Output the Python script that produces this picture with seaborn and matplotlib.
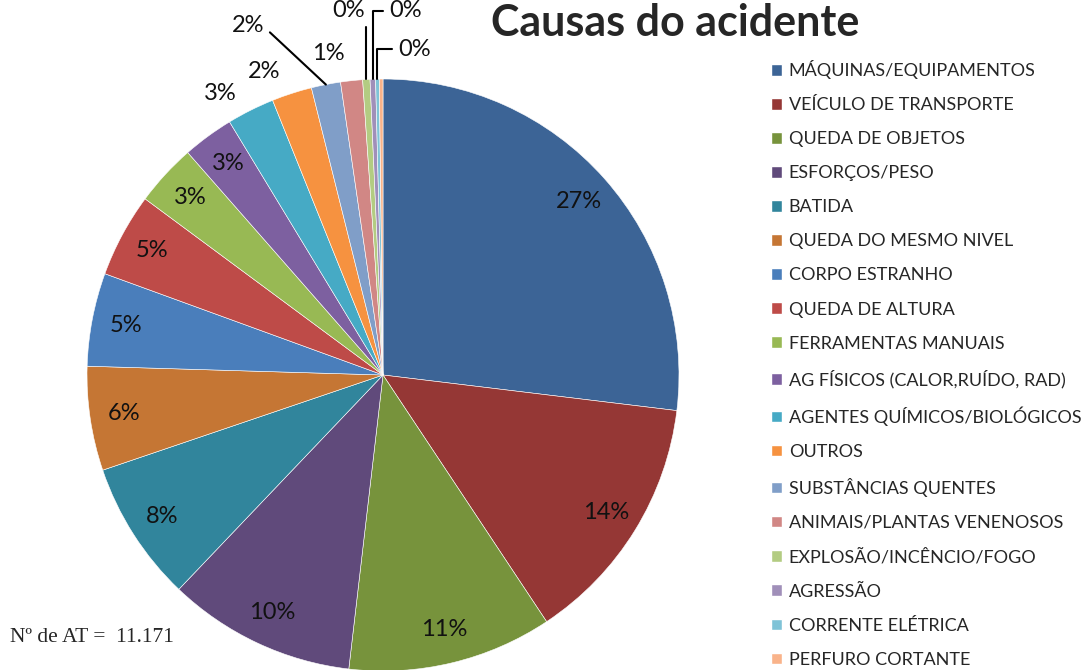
import matplotlib.pyplot as plt
import matplotlib.patches as mpatches
import numpy as np
import seaborn as sns

# causas de acidente (percentual estimado do grafico), N = 11.171
causas = ["MÁQUINAS/EQUIPAMENTOS", "VEÍCULO DE TRANSPORTE", "QUEDA DE OBJETOS",
          "ESFORÇOS/PESO", "BATIDA", "QUEDA DO MESMO NIVEL", "CORPO ESTRANHO",
          "QUEDA DE ALTURA", "FERRAMENTAS MANUAIS", "AG FÍSICOS (CALOR,RUÍDO, RAD)",
          "AGENTES QUÍMICOS/BIOLÓGICOS", "OUTROS", "SUBSTÂNCIAS QUENTES",
          "ANIMAIS/PLANTAS VENENOSOS", "EXPLOSÃO/INCÊNCIO/FOGO", "AGRESSÃO",
          "CORRENTE ELÉTRICA", "PERFURO CORTANTE"]
percentual = [27.0, 13.8, 11.2, 10.3, 7.7, 5.7, 5.1, 4.6, 3.4, 2.8, 2.6, 2.2,
              1.6, 1.2, 0.4, 0.3, 0.2, 0.2]
cores = ["#3C6496", "#953735", "#77933C", "#604A7B", "#31859C", "#C57634",
         "#4A7EBB", "#BE4B48", "#98B954", "#7D60A0", "#46AAC5", "#F69240",
         "#809EC8", "#D18785", "#B3CC82", "#A08FB9", "#7FC3D7", "#F9B38A"]
total_at = "11.171"

sns.set_theme(style="white")
plt.rcParams['font.family'] = ['Lato', 'DejaVu Sans']
pal = sns.color_palette(cores)

fig = plt.figure(figsize=(10.86, 6.70), dpi=100)
ax = fig.add_axes([(383 - 296) / 1086, (670 - 375 - 296) / 670, 592 / 1086, 592 / 670])

wedges, texts, autotexts = ax.pie(percentual, colors=pal, startangle=90, counterclock=False,
                                  autopct="%.0f%%", pctdistance=0.885,
                                  wedgeprops=dict(linewidth=0.4, edgecolor="white"),
                                  textprops=dict(fontsize=17, color="#111111"))
ax.set_aspect("equal")
ax.set_xlim(-1, 1)
ax.set_ylim(-1, 1)

def meio(w):
    return np.deg2rad((w.theta1 + w.theta2) / 2)

# rotulos fora da pizza
for i in [10, 11, 13]:
    a = meio(wedges[i]) + np.deg2rad(3.5)
    autotexts[i].set_position((1.10 * np.cos(a), 1.10 * np.sin(a)))

# rotulos com linha de chamada
chamadas = {12: (-0.40, 1.18, "right", 137), 14: (-0.06, 1.23, "right", 90),
            15: (0.02, 1.23, "left", 90), 16: (0.05, 1.10, "left", 90)}
for i, (tx, ty, ha, ang) in chamadas.items():
    a = meio(wedges[i])
    autotexts[i].set_visible(False)
    ax.annotate(f"{percentual[i]:.0f}%", xy=(np.cos(a), np.sin(a)), xytext=(tx, ty),
                ha=ha, va="center", fontsize=17, color="#111111",
                arrowprops=dict(arrowstyle="-", color="black", lw=1.5,
                                connectionstyle=f"angle,angleA=0,angleB={ang},rad=0",
                                shrinkA=2, shrinkB=0))
autotexts[17].set_visible(False)

fig.text(0.622, 0.965, "Causas do acidente", fontsize=31, fontweight="bold",
         ha="center", va="center")

handles = [mpatches.Patch(facecolor=c, edgecolor="white", label=l) for c, l in zip(pal, causas)]
fig.legend(handles=handles, loc="upper left", bbox_to_anchor=(0.703, 0.921), frameon=False,
           fontsize=13, handlelength=0.6, handleheight=0.6, handletextpad=0.4,
           labelspacing=1.0, borderaxespad=0)

fig.text(0.009, 0.048, "Nº de AT =  " + total_at, fontsize=15.5,
         family="Liberation Serif", ha="left", va="center")

plt.savefig("out.png", dpi=100)
